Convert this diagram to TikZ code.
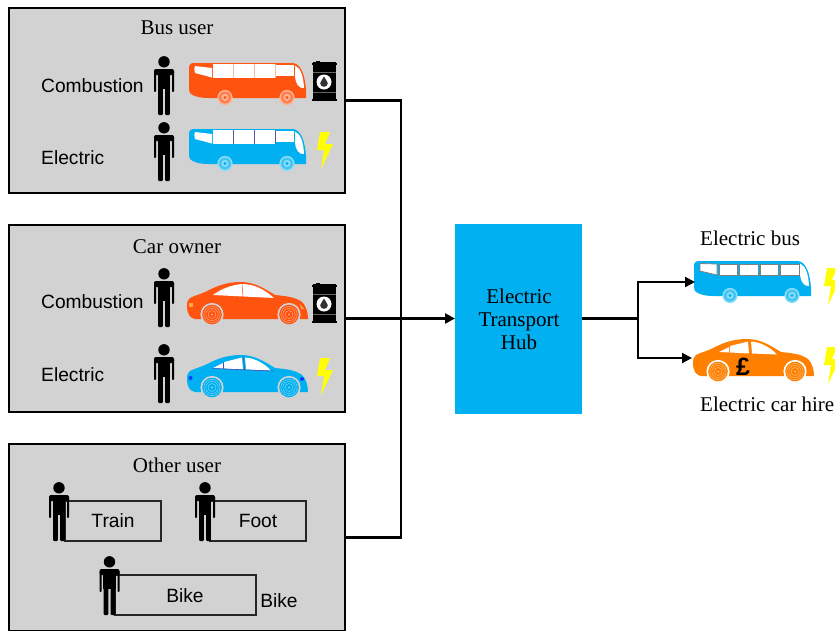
\documentclass[tikz,border=0pt]{standalone}
\usepackage{fontspec}
\setmainfont{Liberation Serif}
\setsansfont{Liberation Sans}
\usetikzlibrary{arrows.meta}
\definecolor{panel}{HTML}{D2D2D2}
\definecolor{sky}{HTML}{00B0F0}
\definecolor{flame}{HTML}{FF5410}
\definecolor{hire}{HTML}{FF8000}
\definecolor{bolt}{HTML}{FFFF00}
\tikzset{
  panelbox/.style={draw=black,line width=2pt,fill=panel,minimum width=336pt,inner sep=0pt,outer sep=0pt},
  hubbox/.style={fill=sky,minimum width=127pt,minimum height=190pt,inner sep=0pt,outer sep=0pt},
  hubtext/.style={inner sep=0pt,align=center,font=\fontsize{21}{23}\selectfont},
  modebox/.style={draw=black!85,line width=1.3pt,inner sep=0pt,outer sep=0pt},
  serif/.style={inner sep=0pt,font=\fontsize{21}{23}\selectfont},
  sans/.style={inner sep=0pt,font=\sffamily\fontsize{19.2}{22}\selectfont},
  link/.style={line width=2.3pt,line join=miter},
  arrowlink/.style={link,-{Triangle[length=10pt,width=10pt]}}
}
\newcommand\personfig[2]{\begin{scope}[shift={(#1,#2)}]
  \fill[black] (0,5.8) circle (5.7);
  \fill[black,rounded corners=2pt] (-10,19) -- (-10,13) -- (10,13) -- (10,19) -- cycle;
  \fill[black,rounded corners=.8pt] (-10,15) rectangle (-8,36);
  \fill[black,rounded corners=.8pt] (8,15) rectangle (10,36);
  \fill[black] (-6.4,15) rectangle (6.4,33);
  \fill[black,rounded corners=1pt] (-5.9,30) -- (-5.9,59) -- (-1.2,59) -- (-1,30) -- cycle;
  \fill[black,rounded corners=1pt] (5.9,30) -- (5.9,59) -- (1.2,59) -- (1,30) -- cycle;
  \fill[black] (-5.9,30) rectangle (5.9,32);
\end{scope}}
\newcommand\boltfig[2]{\begin{scope}[shift={(#1,#2)}]
  \fill[bolt] (3,0) -- (13,0) -- (8,12) -- (16,12) -- (4,37) -- (7,18) -- (0,18) -- cycle;
\end{scope}}
\newcommand\barrelfig[2]{\begin{scope}[shift={(#1,#2)}]
  \fill[black] (1,1) rectangle (24,39);
  \fill[black] (4,0) rectangle (8,2);
  \fill[black] (0,2) rectangle (24.5,3.5);
  \fill[black] (0,37.5) rectangle (24.5,39.5);
  \fill[black!60] (1,11) rectangle (24,12);
  \fill[black!60] (1,30.5) rectangle (24,31.5);
  \fill[white] (12,21) circle (7.5);
  \fill[black!80] (12,15.5) .. controls (13,18.5) and (15.8,20) .. (15.8,22.3) .. controls (15.8,27) and (8.2,27) .. (8.2,22.3) .. controls (8.2,20) and (11,18.5) .. (12,15.5) -- cycle;
\end{scope}}
% #1 x, #2 y, #3 body, #4 wheel tint
\newcommand\busbody[4]{\begin{scope}[shift={(#1,#2)}]
  \fill[#3] (0,6) .. controls (0,2) and (1,0) .. (5,0) -- (104,0) .. controls (112,1) and (116,12) .. (117,27) -- (117,35) -- (20,35) .. controls (10,35) and (4,33) .. (1,30) .. controls (0,28) and (0,26) .. (0,24) -- cycle;
  \fill[white] (106,2.5) .. controls (112,5) and (114.5,14) .. (115,25) .. controls (110,26) and (106.5,20) .. (106,14) -- cycle;
  \foreach \w in {36,98}{
    \fill[#4!45!white] (\w,34.5) circle (7.6);
    \fill[#4!75!white] (\w,34.5) circle (6);
    \fill[#4!45!white] (\w,34.5) circle (3.6);
    \fill[#3] (\w,34.5) circle (1.6);
  }
\end{scope}}
% bus in the panels: wide windows reaching close to the roof
\newcommand\panelwindows[3]{\begin{scope}[shift={(#1,#2)}]
  \fill[white] (6,3) -- (23,5) -- (23,14.5) -- (6,10) .. controls (5,7) and (5,5) .. (6,3) -- cycle;
  \fill[white] (24,1) rectangle (86,14.5);
  \fill[white] (87,2) rectangle (105,13.3);
  \draw[#3,line width=.7pt] (44.5,1) -- (44.5,14.5) (65,1) -- (65,14.5) (86,1) -- (86,14.5);
\end{scope}}
% bus on the right: five outlined windows
\newcommand\fivewindows[3]{\begin{scope}[shift={(#1,#2)}]
  \fill[white,draw=#3,line width=.8pt] (6,2.5) -- (23,3) -- (23,14) -- (6,10) -- cycle;
  \foreach \a in {25,45.5,66,86.5}{\fill[white,draw=#3,line width=.8pt] (\a,3) rectangle +(18.5,11);}
\end{scope}}
\newcommand\carbody[1]{\fill[#1] (0,24) .. controls (0,20) and (1,17) .. (3,16) .. controls (9,13) and (14,12) .. (18,10) .. controls (28,5) and (38,0) .. (54,0) .. controls (68,0) and (78,7) .. (88,13) .. controls (98,14) and (110,15) .. (116,21) .. controls (119,25) and (121,30) .. (121,37) -- (8,37) .. controls (3,36) and (0,32) .. (0,24) -- cycle;}
% #1 body, #2 ring colour, #3 outer ring
\newcommand\carwheels[3]{\foreach \w in {25,102}{
    \fill[#3] (\w,32.5) circle (11.6);
    \fill[#1] (\w,32.5) circle (9.8);
    \draw[#2,line width=.4pt] (\w,32.5) circle (8.2);
    \draw[#2,line width=.4pt] (\w,32.5) circle (6.2);
    \draw[#2,line width=.4pt] (\w,32.5) circle (4);
    \fill[#2] (\w,32.5) circle (1);
  }}
\newcommand\threewindows{
  \fill[white] (26,13) -- (36,8) -- (36,13.5) -- cycle;
  \fill[white] (37,7) -- (55,2.5) -- (56,14.5) -- (37,13.5) -- cycle;
  \fill[white] (58,2.5) .. controls (68,3) and (78,9) .. (84,15.5) -- (59,14.5) -- cycle;
}
\begin{document}
\begin{tikzpicture}[x=1pt,y=-1pt]
\useasboundingbox (0,0) rectangle (835,630);
\clip (0,0) rectangle (835,630);
\fill[white] (0,0) rectangle (835,630);

% panels
\node[panelbox,minimum height=185pt] (busbox) at (177,100.5) {};
\node[panelbox,minimum height=187pt] (carbox) at (177,318.5) {};
\node[panelbox,minimum height=187pt] (otherbox) at (177,537.5) {};
\node[hubbox] (hub) at (518.5,318.5) {};
\node[hubtext] (hubtxt) at (519,319.5) {Electric\\Transport\\Hub};

% titles
\node[serif] (t1) at (177,28) {Bus user};
\node[serif] (t2) at (177,246.5) {Car owner};
\node[serif] (t3) at (177,465) {Other user};
\node[sans,anchor=west] (l1) at (41,86) {Combustion};
\node[sans,anchor=west] (l2) at (41,158) {Electric};
\node[sans,anchor=west] (l3) at (41,302) {Combustion};
\node[sans,anchor=west] (l4) at (41,375) {Electric};

% bus user row
\personfig{164}{56}
\personfig{164}{122}
\busbody{189}{63}{flame}{flame}
\panelwindows{189}{63}{flame!40!white}
\busbody{189}{129}{sky}{sky}
\panelwindows{189}{129}{blue!30!gray}
\barrelfig{312}{61}
\boltfig{317}{132}

% car owner row
\personfig{164}{268}
\personfig{164}{344}
\begin{scope}[shift={(187,282)}]
  \carbody{flame}
  \fill[white] (26,13) .. controls (34,7) and (44,3) .. (55,2) .. controls (68,2) and (78,8) .. (87,16) -- cycle;
  \draw[flame,line width=.5pt] (55,2) -- (56,15);
  \fill[hire!70] (2,21) rectangle (5.5,25);
  \fill[hire!70] (113,22) -- (117,27) -- (114,27) -- cycle;
  \carwheels{flame}{flame!45!white}{panel}
\end{scope}
\begin{scope}[shift={(187,355)}]
  \carbody{sky}
  \threewindows
  \draw[blue!40!gray,line width=.6pt] (26,13.5) -- (86,16) (36.5,7.5) -- (36.5,13.5) (56.5,2.5) -- (57.5,15);
  \fill[blue!65!sky] (3.5,23) circle (2);
  \fill[blue!65!sky] (115,24) circle (2);
  \carwheels{sky}{sky!45!white}{panel}
\end{scope}
\barrelfig{312}{283}
\boltfig{317}{358}

% other users
\node[modebox,minimum width=96pt,minimum height=40pt,sans] (train) at (113,521) {Train};
\node[modebox,minimum width=96pt,minimum height=40pt,sans] (foot) at (258,521) {Foot};
\node[modebox,minimum width=141pt,minimum height=40pt] (bike) at (185.5,595) {};
\node[sans] (bikein) at (185,596) {Bike};
\node[sans] (bikeout) at (279,601) {Bike};
\personfig{59}{482}
\personfig{205}{482}
\personfig{109.5}{556}

% outcome vehicles
\node[serif,anchor=west] (ebustxt) at (700,238) {Electric bus};
\node[serif,anchor=west] (ecartxt) at (700,404) {Electric car hire};
\busbody{694}{261}{sky}{sky}
\fivewindows{694}{261}{gray}
\begin{scope}[shift={(693,339)}]
  \carbody{hire}
  \threewindows
  \carwheels{hire}{hire!45!white}{white}
\end{scope}
\node[inner sep=0pt,font=\sffamily\bfseries\fontsize{25}{26}\selectfont] (pound) at (743,367) {£};
\boltfig{824}{268}
\boltfig{824}{347}

% connectors
\coordinate (join) at (401,318.5);
\coordinate (fork) at (638,318.5);
\coordinate (ebus) at (695,282);
\coordinate (ecar) at (692,358);
\draw[link] (busbox.east) -| (join);
\draw[link] (otherbox.east) -| (join);
\draw[arrowlink] (carbox.east) -- (hub.west);
\draw[link] (hub.east) -- (fork);
\draw[arrowlink] (fork) |- (ebus);
\draw[arrowlink] (fork) |- (ecar);
\end{tikzpicture}
\end{document}
